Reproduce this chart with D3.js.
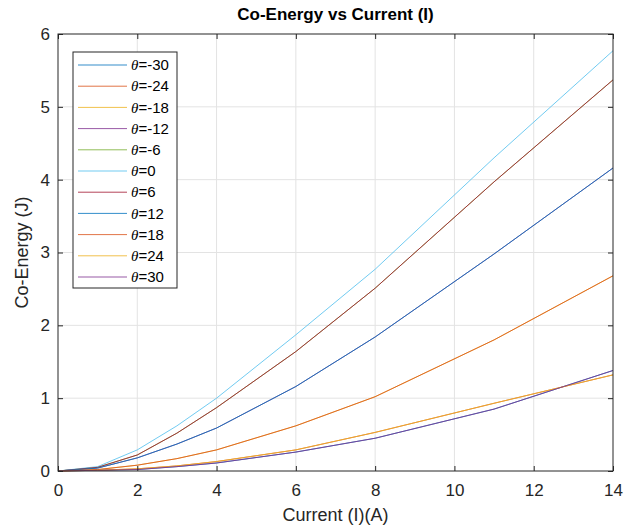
<!DOCTYPE html>
<html>
<head>
<meta charset="utf-8">
<script src="https://cdn.jsdelivr.net/npm/d3@7"></script>
<style>
  body { margin: 0; background: #fff; }
  svg { font-family: "Liberation Sans", Arial, sans-serif; }
</style>
</head>
<body>
<svg id="chart" width="638" height="526"></svg>
<script>
// currents (A) where the co-energy was sampled
var current = [0, 1, 2, 3, 4, 6, 8, 11, 14];

// rotor angles, legend order
var thetas = [-30, -24, -18, -12, -6, 0, 6, 12, 18, 24, 30];

// co-energy (J) per angle; negative angles mirror the positive ones
var e0  = [0, 0.06, 0.29, 0.62, 1.00, 1.87, 2.77, 4.30, 5.77];
var e6  = [0, 0.05, 0.22, 0.52, 0.87, 1.64, 2.51, 3.97, 5.37];
var e12 = [0, 0.04, 0.18, 0.37, 0.59, 1.16, 1.84, 2.98, 4.16];
var e18 = [0, 0.02, 0.08, 0.17, 0.29, 0.62, 1.02, 1.80, 2.68];
var e24 = [0, 0.01, 0.03, 0.07, 0.13, 0.29, 0.53, 0.93, 1.32];
var e30 = [0, 0.01, 0.02, 0.06, 0.11, 0.26, 0.45, 0.85, 1.38];

var energy = [e30, e24, e18, e12, e6, e0, e6, e12, e18, e24, e30];

var xTicks = [0, 2, 4, 6, 8, 10, 12, 14];
var yTicks = [0, 1, 2, 3, 4, 5, 6];

// matlab default colour order
var colors = ["#0072BD", "#D95319", "#EDB120", "#7E2F8E", "#77AC30", "#4DBEEE", "#A2142F"];

var svg = d3.select("#chart"),
  margin = { top: 34, right: 25, bottom: 55, left: 58 },
  width = +svg.attr("width") - margin.left - margin.right,
  height = +svg.attr("height") - margin.top - margin.bottom;

var x = d3.scaleLinear().domain([0, 14]).range([0, width]),
  y = d3.scaleLinear().domain([0, 6]).range([height, 0]);

var g = svg.append("g")
  .attr("transform", "translate(" + margin.left + "," + margin.top + ")");

// grid
g.append("g").selectAll("line")
  .data(xTicks.slice(1, -1))
  .enter().append("line")
  .attr("x1", function (d) { return x(d); })
  .attr("x2", function (d) { return x(d); })
  .attr("y1", 0).attr("y2", height)
  .attr("stroke", "#e3e3e3");

g.append("g").selectAll("line")
  .data(yTicks.slice(1, -1))
  .enter().append("line")
  .attr("y1", function (d) { return y(d); })
  .attr("y2", function (d) { return y(d); })
  .attr("x1", 0).attr("x2", width)
  .attr("stroke", "#e3e3e3");

// curves
var line = d3.line()
  .x(function (d, i) { return x(current[i]); })
  .y(function (d) { return y(d); });

g.selectAll(".curve")
  .data(energy)
  .enter().append("path")
  .attr("class", "curve")
  .attr("fill", "none")
  .attr("stroke", function (d, i) { return colors[i % colors.length]; })
  .attr("stroke-width", 1)
  .attr("stroke-opacity", 0.8)
  .attr("d", line);

// axes (box with inward ticks on all sides)
function styleAxis(sel) {
  sel.select(".domain").remove();
  sel.selectAll("line").attr("stroke", "#262626");
  sel.selectAll("text").attr("fill", "#262626").style("font-size", "17px");
}

g.append("g")
  .attr("transform", "translate(0," + height + ")")
  .call(d3.axisBottom(x).tickValues(xTicks).tickSize(-5).tickPadding(13).tickFormat(d3.format("d")))
  .call(styleAxis);

g.append("g")
  .call(d3.axisTop(x).tickValues(xTicks).tickSize(-5).tickFormat(""))
  .call(styleAxis);

g.append("g")
  .call(d3.axisLeft(y).tickValues(yTicks).tickSize(-5).tickPadding(8).tickFormat(d3.format("d")))
  .call(styleAxis);

g.append("g")
  .attr("transform", "translate(" + width + ",0)")
  .call(d3.axisRight(y).tickValues(yTicks).tickSize(-5).tickFormat(""))
  .call(styleAxis);

g.append("rect")
  .attr("width", width).attr("height", height)
  .attr("fill", "none")
  .attr("stroke", "#262626")
  .attr("stroke-width", 1);

// labels
svg.append("text")
  .attr("x", margin.left + width / 2)
  .attr("y", 20)
  .attr("text-anchor", "middle")
  .attr("font-weight", "bold")
  .attr("font-size", "17px")
  .attr("fill", "#000")
  .text("Co-Energy vs Current (I)");

svg.append("text")
  .attr("x", margin.left + width / 2)
  .attr("y", 521)
  .attr("text-anchor", "middle")
  .attr("font-size", "18px")
  .attr("fill", "#262626")
  .text("Current (I)(A)");

svg.append("text")
  .attr("transform", "translate(28," + (margin.top + height / 2) + ") rotate(-90)")
  .attr("text-anchor", "middle")
  .attr("font-size", "18px")
  .attr("fill", "#262626")
  .text("Co-Energy (J)");

// legend
var legend = g.append("g").attr("transform", "translate(15,18)");

legend.append("rect")
  .attr("width", 104).attr("height", 236)
  .attr("fill", "#fff")
  .attr("stroke", "#262626")
  .attr("stroke-width", 1);

var item = legend.selectAll(".item")
  .data(thetas)
  .enter().append("g")
  .attr("class", "item")
  .attr("transform", function (d, i) { return "translate(0," + (13 + i * 21.2) + ")"; });

item.append("line")
  .attr("x1", 5).attr("x2", 54)
  .attr("stroke", function (d, i) { return colors[i % colors.length]; })
  .attr("stroke-opacity", 0.8);

var label = item.append("text")
  .attr("x", 58)
  .attr("dy", "0.35em")
  .attr("font-size", "15px")
  .attr("fill", "#000");

label.append("tspan").attr("font-style", "italic").attr("font-family", "'Liberation Serif', serif").text("\u03b8");
label.append("tspan").text(function (d) { return "=" + d; });
</script>
</body>
</html>
